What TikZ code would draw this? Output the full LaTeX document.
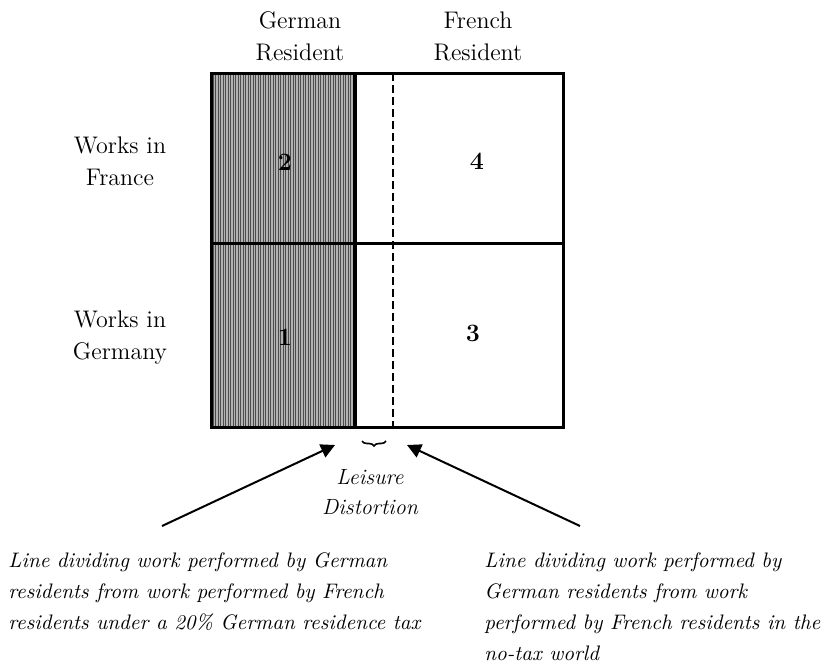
\documentclass[tikz,border=0pt]{standalone}
\usepackage{tikz}
\usetikzlibrary{arrows.meta, positioning, decorations.pathreplacing}

\begin{document}
\begin{tikzpicture}[
        x=0.5pt, y=-0.5pt,
        heading/.style={
          inner sep=0pt,
          align=center,
          font=\fontsize{12pt}{16pt}\selectfont
        },
        cellnum/.style={
          inner sep=0pt,
          font=\fontsize{12.5pt}{14pt}\selectfont\bfseries
        },
        note/.style={
          inner sep=0pt,
          align=left,
          anchor=north west,
          font=\fontsize{10.5pt}{15.5pt}\selectfont\itshape
        },
        pointer/.style={
          -{Triangle[length=7pt,width=7pt]},
          line width=1pt
        }
      ]

      \useasboundingbox (0,0) rectangle (829,664);

      % Shaded part (German residents)
      \fill[black!30] (211,73) rectangle (355,427);
      \foreach \x in {213,215.5,...,354}
        \draw[black!70, line width=0.4pt] (\x,74) -- (\x,426);

      % Grid
      \draw[dashed, line width=0.6pt, dash pattern=on 4pt off 2pt] (393,73) -- (393,427);
      \draw[line width=1.5pt] (211,73) rectangle (563,427);
      \draw[line width=1.5pt] (211,243) -- (563,243);
      \draw[line width=2pt] (355,73) -- (355,427);

      % Column and row headings
      \node[heading] (german) at (300,36) {German\\Resident};
      \node[heading] (french) at (478,36) {French\\Resident};
      \node[heading] (france) at (120,161) {Works in\\France};
      \node[heading] (germany) at (120,338) {Works in\\Germany};

      % Cell numbers
      \node[cellnum] (c2) at (285,162) {2};
      \node[cellnum] (c4) at (477,161) {4};
      \node[cellnum] (c1) at (285,337) {1};
      \node[cellnum] (c3) at (473,333) {3};

      % Leisure distortion
      \draw[decorate, decoration={brace, mirror, amplitude=2.5pt}, line width=0.8pt] (362,441) -- (386,441);
      \node[heading, font=\fontsize{11pt}{15pt}\selectfont\itshape] (leisure) at (370,492) {Leisure\\Distortion};

      % Notes
      \node[note] (taxnote) at (8,552) {Line dividing work performed by German\\residents from work performed by French\\residents under a 20\% German residence tax};
      \node[note] (notaxnote) at (484,552) {Line dividing work performed by\\German residents from work\\performed by French residents in the\\no-tax world};

      \coordinate (ltail) at (162,526);
      \coordinate (ltip) at (335,445);
      \coordinate (rtail) at (580,526);
      \coordinate (rtip) at (407,445);

      \draw[pointer] (ltail) -- (ltip);
      \draw[pointer] (rtail) -- (rtip);

    \end{tikzpicture}
\end{document}
